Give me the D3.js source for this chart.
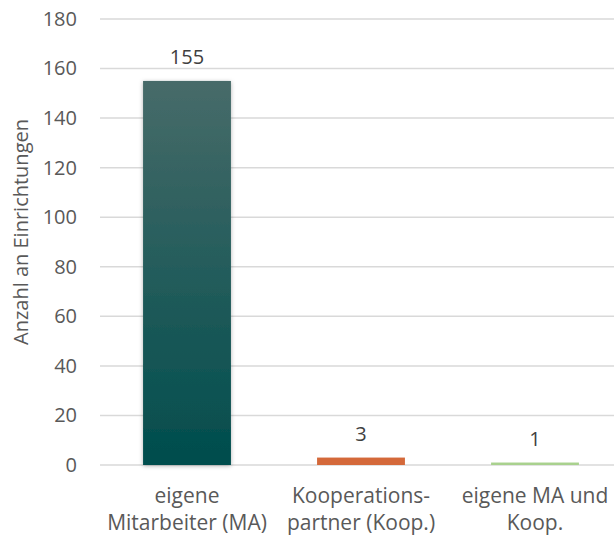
<!DOCTYPE html>
<html><head><meta charset="utf-8">
<script src="https://cdn.jsdelivr.net/npm/d3@7"></script>
<style>body{margin:0;background:#fff}svg{display:block}text{font-family:"Open Sans",sans-serif}</style>
</head><body>
<svg id="c" width="614" height="537"></svg>
<script>
const categories = [["eigene","Mitarbeiter (MA)"],["Kooperations-","partner (Koop.)"],["eigene MA und","Koop."]];
const values = [155, 3, 1];
const colors = ["#005050", "#d4693a", "#a9d18e"];
const yTicks = [0,20,40,60,80,100,120,140,160,180];
const yTitle = "Anzahl an Einrichtungen";

const svg = d3.select("#c");
const x0 = 100, x1 = 622, yTop = 19, yBot = 465;
const FS = "20px";
const x = d3.scaleBand().domain(d3.range(values.length)).range([x0, x1]).paddingInner(0.495).paddingOuter(0.2475);
const y = d3.scaleLinear().domain([0, 180]).range([yBot, yTop]);

const defs = svg.append("defs");
const g = defs.append("linearGradient").attr("id","g0").attr("x1",0).attr("y1",0).attr("x2",0).attr("y2",1);
g.append("stop").attr("offset","0%").attr("stop-color","#476b69");
g.append("stop").attr("offset","100%").attr("stop-color","#004d4d");
const f = defs.append("filter").attr("id","sh").attr("x","-20%").attr("y","-20%").attr("width","140%").attr("height","140%");
f.append("feDropShadow").attr("dx",0).attr("dy",1).attr("stdDeviation",2).attr("flood-color","#000").attr("flood-opacity",0.3);

// gridlines
svg.append("g").selectAll("line").data(yTicks).join("line")
  .attr("x1", x0).attr("x2", 614).attr("y1", d=>y(d)).attr("y2", d=>y(d))
  .attr("stroke", "#d9d9d9").attr("stroke-width", 1.5);

// y axis labels
const yAxis = d3.axisLeft(y).tickValues(yTicks).tickSize(0).tickPadding(0);
const ya = svg.append("g").attr("transform", `translate(77,0)`).call(yAxis);
ya.select(".domain").remove();
ya.selectAll("text").attr("fill","#595959").style("font-size",FS).attr("font-family", null);

// bars
svg.append("g").selectAll("rect").data(values).join("rect")
  .attr("x", (d,i)=>x(i)).attr("width", x.bandwidth())
  .attr("y", d=>y(d)).attr("height", d=>Math.max(y(0)-y(d), 1.2))
  .attr("fill", (d,i)=> i===0 ? "url(#g0)" : colors[i])
  .attr("filter", (d,i)=> i===0 ? "url(#sh)" : null);

// value labels
svg.append("g").selectAll("text").data(values).join("text")
  .attr("x", (d,i)=>x(i)+x.bandwidth()/2).attr("y", d=>y(d)-17)
  .attr("text-anchor","middle").attr("fill","#404040").style("font-size",FS)
  .text(d=>d);

// x labels
const xl = svg.append("g").selectAll("text").data(categories).join("text")
  .attr("text-anchor","middle").attr("fill","#595959").style("font-size","21px");
xl.each(function(d,i){
  const t = d3.select(this);
  d.forEach((line,k)=>{
    t.append("tspan").attr("x", x(i)+x.bandwidth()/2).attr("y", 503 + k*27).text(line);
  });
});

// y title
svg.append("text").attr("transform","translate(28,232) rotate(-90)")
  .attr("text-anchor","middle").attr("fill","#595959").style("font-size",FS).text(yTitle);
</script>
</body></html>
